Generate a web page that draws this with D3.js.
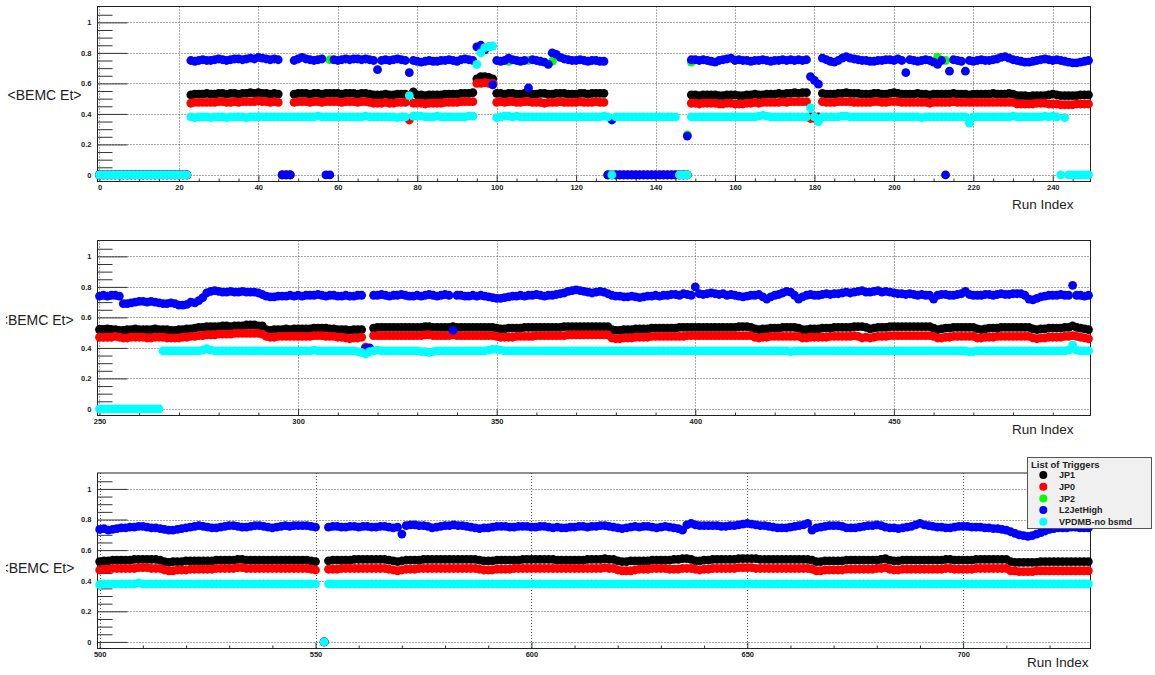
<!DOCTYPE html>
<html>
<head>
<meta charset="utf-8">
<script src="https://cdn.jsdelivr.net/npm/d3@7"></script>
<style>
  html, body { margin: 0; padding: 0; background: #ffffff; }
  svg { display: block; }
</style>
</head>
<body>
<svg id="chart" width="1155" height="675"></svg>
<script>
// ---- data ---------------------------------------------------------------
const triggerNames = ["JP1", "JP0", "JP2", "L2JetHigh", "VPDMB-no bsmd"];
const legendTitle = "List of Triggers";
const yAxisTitle = "<BEMC Et>";
const xAxisTitle = "Run Index";

// run ranges shown in each of the three pads
const firstRun = [0, 250, 500];
const lastRun = [249, 499, 729];

const xMajorTicks = [
  [0, 20, 40, 60, 80, 100, 120, 140, 160, 180, 200, 220, 240],
  [250, 300, 350, 400, 450],
  [500, 550, 600, 650, 700]
];
const xMinorStep = [5, 10, 10];
const yTickValues = [0, 0.2, 0.4, 0.6, 0.8, 1];
const yMinorStep = 0.05;

// mean BEMC Et per run, one value per run index 0..729 (null = no entry)
const jp1 = [
0,0,0,0,0,0,0,0,0,0,
0,0,0,0,0,0,0,0,0,0,
0,0,0,.525,.53,.53,.53,.535,.53,.53,
.535,.535,.53,.535,.535,.53,.535,.535,.54,.535,
.54,.535,.535,.53,.535,.53,0,0,0,.53,
.535,.535,.535,.53,.535,.535,.53,.535,.535,.535,
.535,.53,.535,.535,.535,.53,.535,.535,.53,.525,
.525,.525,.53,.525,.525,.53,.53,.53,.52,.545,
.525,.525,.52,.525,.525,.525,.525,.53,.53,.53,
.53,.535,.535,.535,.54,.63,.645,.645,.64,.63,
.535,.535,.53,.535,.535,.53,.53,.535,.535,.53,
.53,.535,.535,.53,.53,.535,.535,.535,.53,.53,
.53,.535,.535,.53,.535,.535,.535,.535,0,0,
0,0,0,0,0,0,0,0,0,0,
0,0,0,0,0,0,0,0,0,.525,
.525,.52,.525,.525,.525,.525,.52,.52,.525,.525,
.525,.52,.52,.525,.525,.53,.525,.525,.53,.53,
.53,.535,.53,.535,.535,.54,.535,.54,.54,.38,
.38,.38,.535,.53,.53,.53,.535,.535,.54,.535,
.535,.535,.53,.53,.53,.535,.535,.53,.53,.535,
.54,.535,.53,.53,.53,.53,.535,.53,.53,.525,
.53,.53,.53,.53,.53,.535,.53,.53,.53,.525,
.53,.53,.53,.53,.53,.535,.53,.53,.53,.535,
.53,.52,.52,.52,.515,.52,.52,.52,.52,.525,
.53,.525,.52,.52,.52,.52,.52,.525,.525,.525,
.52,.52,.525,.52,.52,.515,.515,.52,.52,.525,
.52,.52,.52,.52,.525,.52,.52,.52,.515,.515,
.52,.52,.525,.525,.53,.535,.535,.54,.54,.54,
.54,.545,.545,.54,.545,.545,.545,.55,.55,.55,
.545,.545,.52,.515,.52,.52,.52,.525,.52,.525,
.525,.525,.525,.525,.53,.53,.53,.53,.525,.525,
.52,.52,.52,.515,.52,.52,.52,.40,.39,.53,
.535,.535,.535,.535,.535,.535,.535,.535,.535,.535,
.535,.535,.54,.54,.535,.535,.535,.535,.535,.54,
.535,.535,.535,.535,.535,.535,.535,.535,.535,.535,
.53,.525,.525,.53,.53,.53,.53,.535,.535,.535,
.535,.535,.535,.535,.535,.535,.535,.54,.54,.54,
.54,.54,.54,.54,.54,.54,.54,.54,.54,.52,
.515,.515,.52,.52,.52,.525,.525,.525,.525,.53,
.53,.53,.53,.53,.53,.53,.535,.535,.535,.535,
.535,.535,.535,.535,.535,.535,.535,.535,.535,.535,
.535,.54,.54,.54,.535,.525,.52,.525,.525,.53,
.53,.53,.535,.535,.535,.535,.53,.52,.52,.525,
.525,.525,.53,.53,.53,.535,.535,.535,.535,.535,
.54,.54,.54,.535,.525,.53,.535,.535,.535,.54,
.54,.54,.54,.54,.54,.54,.54,.54,.54,.54,
.53,.52,.525,.53,.53,.535,.535,.535,.535,.535,
.535,.525,.52,.525,.53,.53,.53,.535,.535,.535,
.535,.535,.535,.535,.535,.525,.52,.525,.525,.53,
.53,.53,.53,.535,.535,.545,.535,.53,.525,.52,
.525,.53,.53,.535,.535,.535,.535,.535,.54,.54,
.54,.54,.54,.54,.535,.525,.52,.525,.525,.525,
.53,.53,.53,.53,.53,.53,.53,.535,.535,.535,
.535,.535,.54,.54,.535,.535,.535,.535,.535,.535,
.535,.535,.535,.535,.535,.535,.535,.535,.535,.53,
.525,null,0,.53,.535,.535,.535,.535,.535,.54,
.54,.54,.54,.54,.54,.54,.54,.535,.53,.525,
.53,.535,.535,.535,.535,.54,.54,.54,.54,.54,
.54,.54,.54,.54,.54,.54,.54,.54,.535,.53,
.53,.53,.535,.535,.535,.535,.535,.535,.54,.54,
.54,.54,.54,.54,.54,.54,.535,.535,.535,.535,
.535,.535,.535,.54,.54,.54,.54,.545,.54,.54,
.53,.525,.525,.53,.53,.53,.53,.53,.535,.535,
.535,.535,.535,.54,.54,.545,.545,.54,.53,.53,
.535,.535,.54,.54,.54,.54,.54,.54,.545,.545,
.545,.545,.545,.54,.54,.54,.54,.54,.54,.54,
.54,.54,.54,.54,.54,.535,.525,.525,.53,.53,
.53,.53,.53,.535,.535,.535,.535,.535,.535,.535,
.535,.54,.545,.535,.53,.53,.535,.535,.535,.535,
.535,.535,.535,.535,.535,.535,.54,.54,.535,.535,
.535,.535,.535,.54,.54,.54,.54,.54,.54,.54,
.54,.525,.52,.52,.52,.52,.52,.52,.525,.525,
.525,.525,.525,.525,.525,.525,.525,.525,.525,.525
];

const jp0 = [
0,0,0,0,0,0,0,0,0,0,
0,0,0,0,0,0,0,0,0,0,
0,0,0,.47,.475,.475,.475,.475,.475,.475,
.48,.48,.475,.475,.48,.475,.48,.48,.48,.48,
.485,.48,.48,.475,.48,.475,0,0,0,.475,
.48,.48,.48,.475,.48,.48,.475,.48,.48,.48,
.48,.475,.48,.48,.48,.475,.48,.48,.475,.47,
.47,.47,.475,.47,.47,.475,.475,.475,.36,.47,
.47,.47,.465,.47,.47,.47,.47,.475,.475,.475,
.475,.48,.48,.48,.48,.60,.60,.605,.60,.60,
.475,.48,.475,.48,.48,.475,.475,.48,.48,.475,
.475,.475,.47,.475,.475,.475,.48,.475,.475,.475,
.475,.48,.475,.475,.475,.48,.475,.475,0,0,
0,0,0,0,0,0,0,0,0,0,
0,0,0,0,0,0,0,0,0,.47,
.47,.465,.47,.47,.47,.47,.465,.465,.47,.47,
.465,.465,.465,.47,.47,.475,.47,.475,.475,.475,
.475,.475,.48,.475,.48,.48,.48,.48,.48,.37,
.37,.375,.48,.475,.475,.475,.48,.48,.48,.48,
.475,.475,.475,.475,.475,.48,.48,.475,.475,.48,
.48,.48,.475,.475,.475,.475,.475,.475,.475,.47,
.475,.475,.475,.475,.475,.48,.475,.475,.475,.475,
.475,.475,.475,.475,.475,.475,.475,.475,.475,.475,
.475,.465,.465,.465,.465,.465,.47,.47,.47,.465,
.465,.465,.46,.46,.46,.46,.465,.465,.465,.465,
.47,.47,.47,.47,.475,.47,.465,.465,.47,.47,
.47,.47,.465,.465,.47,.47,.47,.465,.465,.465,
.465,.47,.47,.475,.475,.48,.48,.485,.485,.485,
.49,.49,.49,.49,.495,.495,.495,.495,.495,.495,
.495,.49,.475,.47,.47,.475,.475,.475,.475,.475,
.475,.475,.475,.475,.48,.48,.48,.475,.475,.475,
.47,.47,.465,.46,.465,.465,.47,.405,.395,.48,
.48,.48,.48,.48,.48,.48,.48,.48,.48,.48,
.48,.48,.485,.485,.48,.48,.48,.48,.48,.485,
.48,.48,.48,.48,.48,.48,.48,.48,.48,.48,
.475,.47,.47,.47,.47,.475,.475,.475,.475,.475,
.48,.48,.48,.48,.48,.48,.48,.48,.485,.485,
.485,.485,.485,.485,.485,.485,.485,.485,.485,.465,
.46,.46,.465,.465,.465,.47,.47,.47,.47,.475,
.475,.475,.475,.475,.475,.475,.475,.475,.48,.48,
.48,.48,.48,.48,.48,.48,.48,.48,.48,.48,
.48,.48,.48,.48,.48,.47,.465,.47,.47,.475,
.475,.475,.475,.475,.475,.475,.475,.465,.465,.47,
.47,.47,.47,.47,.475,.475,.475,.475,.475,.475,
.48,.475,.465,.47,.465,.47,.475,.475,.475,.48,
.48,.48,.48,.48,.48,.48,.48,.48,.48,.48,
.475,.465,.465,.47,.47,.475,.475,.475,.475,.475,
.475,.465,.465,.47,.47,.47,.475,.475,.475,.475,
.475,.475,.475,.475,.475,.465,.46,.465,.465,.47,
.47,.47,.47,.475,.475,.48,.475,.47,.465,.46,
.47,.475,.475,.48,.48,.48,.48,.48,.48,.485,
.485,.485,.48,.48,.48,.47,.465,.465,.47,.47,
.47,.475,.475,.475,.475,.475,.475,.48,.48,.48,
.48,.48,.485,.485,.48,.48,.48,.48,.48,.48,
.48,.48,.48,.48,.48,.48,.48,.48,.48,.475,
.47,null,0,.475,.475,.475,.48,.48,.48,.48,
.48,.48,.48,.48,.48,.48,.48,.475,.47,.465,
.47,.475,.475,.475,.48,.48,.48,.48,.48,.48,
.48,.48,.48,.48,.48,.48,.48,.48,.475,.47,
.47,.47,.475,.475,.475,.475,.48,.48,.48,.48,
.48,.48,.48,.48,.48,.48,.48,.48,.48,.48,
.48,.48,.48,.48,.48,.48,.48,.485,.48,.48,
.47,.465,.465,.465,.47,.475,.475,.475,.48,.48,
.48,.48,.475,.475,.475,.48,.48,.48,.475,.47,
.475,.475,.48,.48,.48,.48,.48,.48,.485,.485,
.485,.485,.48,.48,.48,.48,.48,.48,.48,.48,
.48,.48,.48,.48,.48,.475,.465,.465,.47,.47,
.47,.47,.47,.475,.475,.475,.475,.475,.475,.475,
.48,.48,.485,.475,.47,.47,.475,.475,.475,.475,
.475,.475,.475,.475,.475,.475,.48,.48,.475,.475,
.475,.475,.475,.48,.48,.48,.48,.48,.48,.48,
.48,.465,.465,.46,.46,.46,.46,.465,.465,.465,
.465,.465,.465,.465,.465,.465,.465,.465,.465,.465
];

// JP2 entries that are not hidden under L2JetHigh
const jp2Runs = [58, 103, 108, 114, 148, 149, 211, 213];
const jp2Values = [.755, .745, .75, .745, .262, .74, .77, .75];

const l2JetHigh = [
0,0,0,0,0,0,0,0,0,0,
0,0,0,0,0,0,0,0,0,0,
0,0,0,.75,.745,.75,.755,.75,.75,.755,
.76,.755,.75,.755,.76,.76,.755,.76,.765,.76,
.77,.765,.76,.755,.76,.755,0,0,0,.75,
.76,.77,.76,.755,.75,.755,.76,0,0,.755,
.75,.755,.76,.755,.76,.76,.755,.76,.755,.75,
.69,.75,.755,.75,.755,.76,.755,.75,.67,.75,
.745,.74,.745,.75,.745,.745,.75,.75,.755,.75,
.745,.755,.76,.755,.75,.84,.85,.82,.84,.59,
.75,.745,.75,.765,.755,.75,.745,.75,.57,.755,
.75,.745,.74,.725,.80,.79,.77,.76,.755,.75,
.75,.755,.75,.745,.75,.75,.745,.745,0,.36,
0,0,0,0,0,0,0,0,0,0,
0,0,0,0,0,0,0,0,.255,.755,
.755,.75,.755,.75,.745,.74,.75,.755,.76,.765,
.75,.755,.75,.75,.745,.75,.75,.755,.75,.745,
.75,.75,.755,.75,.755,.75,.755,.75,.755,.645,
.62,.595,.765,.755,.745,.74,.75,.765,.775,.765,
.76,.755,.75,.75,.745,.745,.75,.75,.755,.755,
.75,.76,.75,.67,.755,.75,.745,.75,.755,.75,
.74,.725,.75,0,.68,.755,.75,.745,.68,.75,
.745,.75,.755,.75,.75,.755,.76,.77,.775,.765,
.755,.75,.745,.74,.74,.745,.75,.755,.76,.755,
.75,.755,.75,.745,.74,.735,.735,.74,.745,.75,
.74,.745,.74,.745,.745,.74,.69,.69,.695,.70,
.705,.705,.70,.705,.70,.695,.69,.69,.695,.69,
.68,.68,.685,.70,.695,.71,.73,.76,.77,.775,
.77,.765,.765,.77,.765,.765,.77,.765,.765,.765,
.76,.75,.74,.735,.735,.74,.74,.74,.745,.74,
.745,.74,.745,.745,.745,.75,.745,.74,.745,.745,
.74,.74,.745,.74,.74,.745,.745,.395,.40,.745,
.745,.75,.745,.74,.745,.745,.75,.745,.74,.74,
.745,.74,.745,.75,.745,.74,.745,.75,.745,.515,
.745,.745,.74,.74,.745,.74,.745,.74,.735,.73,
.725,.725,.73,.735,.74,.74,.745,.74,.745,.745,
.75,.745,.74,.745,.745,.75,.755,.76,.77,.775,
.78,.775,.77,.765,.76,.765,.77,.765,.755,.745,
.74,.74,.735,.735,.74,.735,.73,.735,.74,.74,
.745,.74,.745,.745,.75,.75,.745,.755,.75,.745,
.80,.755,.75,.755,.76,.755,.75,.755,.745,.75,
.745,.74,.735,.74,.745,.745,.75,.735,.72,.735,
.745,.75,.76,.77,.765,.745,.72,.735,.745,.75,
.745,.745,.75,.755,.75,.755,.755,.76,.765,.76,
.765,.77,.775,.765,.765,.77,.775,.765,.77,.765,
.76,.755,.755,.75,.755,.75,.745,.75,.745,.745,
.72,.745,.75,.75,.745,.745,.75,.755,.77,.75,
.745,.745,.745,.75,.75,.745,.75,.755,.75,.75,
.755,.755,.755,.745,.72,.715,.725,.735,.74,.745,
.745,.745,.75,.745,.745,.81,.745,.745,.74,.745,
.735,.74,.73,.735,.74,.745,.745,.75,.75,.755,
.755,.75,.745,.745,.74,.735,.73,.73,.735,.74,
.745,.75,.755,.76,.755,.75,.745,.745,.75,.755,
.76,.76,.755,.75,.75,.755,.76,.76,.755,.75,
.745,.75,.755,.76,.755,.76,.76,.76,.76,.755,
.75,null,0,.75,.755,.755,.75,.75,.755,.755,
.75,.755,.755,.75,.75,.755,.755,.75,.745,.75,
.705,.76,.765,.765,.76,.76,.755,.745,.75,.755,
.76,.76,.765,.76,.76,.755,.75,.745,.74,.745,
.745,.75,.755,.755,.755,.75,.75,.755,.755,.755,
.75,.75,.755,.755,.75,.745,.75,.745,.745,.75,
.75,.755,.755,.75,.755,.755,.76,.76,.755,.75,
.745,.74,.745,.75,.755,.75,.755,.755,.75,.745,
.75,.755,.75,.745,.74,.73,.765,.775,.765,.76,
.76,.76,.76,.76,.755,.755,.76,.76,.765,.77,
.775,.77,.765,.76,.76,.755,.75,.745,.745,.745,
.75,.755,.76,.765,.775,.73,.745,.75,.755,.76,
.76,.76,.755,.745,.745,.745,.75,.755,.76,.76,
.765,.76,.75,.745,.745,.74,.745,.75,.755,.765,
.775,.765,.76,.755,.75,.75,.745,.745,.75,.755,
.755,.755,.75,.75,.75,.745,.745,.74,.74,.735,
.73,.72,.71,.70,.695,.69,.695,.705,.715,.725,
.735,.74,.745,.745,.745,.75,.75,.745,.745,.745
];

const vpdmb = [
0,0,0,0,0,0,0,0,0,0,
0,0,0,0,0,0,0,0,0,0,
0,0,0,.38,.375,.38,.38,.38,.375,.38,
.38,.38,.375,.38,.38,.38,.38,.375,.38,.38,
.38,.38,.38,.38,.38,.38,.38,.38,.38,.38,
.38,.38,.38,.38,.38,.385,.38,.38,.38,.38,
.38,.38,.38,.38,.38,.38,.38,.385,.38,.38,
.38,.38,.38,.38,.38,.375,.38,.38,.52,.385,
.385,.385,.38,.38,.38,.385,.38,.38,.38,.38,
.38,.38,.38,.385,.385,.725,.80,.835,.84,.845,
.375,.38,.385,.385,.38,.385,.38,.38,.38,.38,
.38,.38,.38,.38,.38,.38,.38,.38,.38,.38,
.38,.38,.38,.38,.38,.38,.38,.385,.38,0,
.38,.38,.38,.38,.38,.38,.38,.38,.38,.38,
.38,.38,.38,.38,.38,.38,0,0,0,.38,
.38,.38,.38,.38,.38,.38,.38,.38,.38,.38,
.38,.38,.38,.38,.38,.38,.385,.39,.385,.38,
.38,.38,.38,.38,.38,.38,.38,.38,.38,.44,
.38,.35,.38,.38,.38,.38,.38,.385,.385,.38,
.38,.38,.38,.38,.38,.38,.38,.38,.38,.38,
.38,.38,.38,.38,.38,.38,.38,.375,.38,.38,
.38,.38,.38,.38,.38,.38,.38,.38,.38,.34,
.38,.38,.38,.38,.38,.38,.38,.38,.38,.38,
.385,.38,.38,.38,.38,.38,.38,.38,.385,.38,
.385,.38,0,.375,0,0,0,0,0,0,
0,0,0,0,0,0,0,0,0,0,
0,0,0,0,0,0,.38,.38,.38,.38,
.38,.38,.38,.38,.38,.38,.385,.395,.385,.38,
.38,.38,.38,.38,.38,.38,.38,.38,.38,.38,
.38,.38,.38,.38,.38,.38,.38,.38,.38,.38,
.38,.38,.38,.38,.385,.38,.38,.38,.38,.38,
.38,.38,.38,.38,.38,.375,.37,.36,.375,.38,
.385,.38,.38,.38,.38,.38,.38,.38,.38,.38,
.38,.375,.375,.37,.375,.38,.38,.38,.38,.38,
.38,.38,.38,.38,.38,.38,.38,.38,.385,.39,
.39,.385,.38,.38,.38,.38,.38,.38,.38,.38,
.38,.38,.38,.38,.38,.38,.38,.38,.38,.38,
.38,.38,.38,.38,.38,.38,.38,.38,.38,.38,
.38,.38,.38,.38,.38,.38,.38,.38,.38,.38,
.38,.38,.38,.38,.38,.38,.38,.38,.38,.38,
.38,.38,.38,.38,.38,.38,.38,.38,.38,.38,
.38,.38,.38,.38,.38,.38,.38,.38,.38,.38,
.38,.38,.38,.38,.375,.38,.38,.38,.38,.38,
.38,.38,.38,.38,.38,.38,.38,.38,.38,.38,
.38,.38,.38,.38,.38,.38,.38,.38,.38,.38,
.38,.38,.38,.38,.38,.38,.38,.38,.38,.38,
.38,.38,.38,.38,.38,.38,.38,.38,.38,.375,
.375,.38,.38,.38,.38,.38,.38,.38,.38,.38,
.38,.38,.38,.38,.38,.38,.38,.38,.38,.38,
.38,.38,.38,.38,.385,.42,.385,.38,.38,.38,
.375,.38,.38,.38,.38,.38,.38,.38,.38,.385,
.38,.38,.38,.38,.38,.38,.38,.38,.38,.38,
.38,.38,.38,.38,.38,.38,.38,.38,.38,.38,
.38,.38,.38,.38,.38,.38,.38,.38,.38,.38,
.38,.38,.38,.38,.38,.38,.38,.38,.38,.38,
.38,null,0,.38,.38,.38,.38,.38,.38,.38,
.38,.38,.38,.38,.38,.38,.38,.38,.38,.38,
.38,.38,.38,.38,.38,.38,.38,.38,.38,.38,
.38,.38,.38,.38,.38,.38,.38,.38,.38,.38,
.38,.38,.38,.38,.38,.38,.38,.38,.38,.38,
.38,.38,.38,.38,.38,.38,.38,.38,.38,.38,
.38,.38,.38,.38,.38,.38,.38,.38,.38,.38,
.38,.38,.38,.38,.38,.38,.38,.38,.38,.38,
.38,.38,.38,.38,.38,.38,.38,.38,.38,.38,
.38,.38,.38,.38,.38,.38,.38,.38,.38,.38,
.38,.38,.38,.38,.38,.38,.38,.38,.38,.38,
.38,.38,.38,.38,.38,.38,.38,.38,.38,.38,
.38,.38,.38,.38,.38,.38,.38,.38,.38,.38,
.38,.38,.38,.38,.38,.38,.38,.38,.38,.38,
.38,.38,.38,.38,.38,.38,.38,.38,.38,.38,
.38,.38,.38,.38,.38,.38,.38,.38,.38,.38,
.38,.38,.38,.38,.38,.38,.38,.38,.38,.38,
.38,.38,.38,.38,.38,.38,.38,.38,.38,.38
];

// ---- layout -------------------------------------------------------------
const W = 1155, H = 675;
const frameLeft = 97.5, frameRight = 1090.5;
const yDomain = [-0.043, 1.104];
const pads = [
  { top: 6.5,   bottom: 181.5, yTitleX: 7.6,  yTitleY: 99.7,  clip: false, xTitleX: 1073.5, xTitleY: 208.7 },
  { top: 240.5, bottom: 415.5, yTitleX: -0.3, yTitleY: 325,   clip: true,  xTitleX: 1073.5, xTitleY: 433.7 },
  { top: 473,   bottom: 648.5, yTitleX: 0.5,  yTitleY: 573.3, clip: true,  xTitleX: 1088.5, xTitleY: 666.7 }
];
const markerR = 4.4;
const colors = ["#000000", "#ff0000", "#00ff00", "#0000ff", "#00ffff"];
const labelFont = "'Liberation Sans', Arial, sans-serif";
const textColor = "#222222";

const runIndex = d3.range(firstRun[0], lastRun[2] + 1);
const seriesList = [
  { name: triggerNames[0], color: colors[0], runs: runIndex, values: jp1 },
  { name: triggerNames[1], color: colors[1], runs: runIndex, values: jp0 },
  { name: triggerNames[2], color: colors[2], runs: jp2Runs,  values: jp2Values },
  { name: triggerNames[3], color: colors[3], runs: runIndex, values: l2JetHigh },
  { name: triggerNames[4], color: colors[4], runs: runIndex, values: vpdmb }
];

const svg = d3.select("#chart");
svg.append("rect").attr("width", W).attr("height", H).attr("fill", "#ffffff");

const defs = svg.append("defs");
defs.append("clipPath").attr("id", "titleClip")
  .append("rect").attr("x", 6).attr("y", 0).attr("width", 200).attr("height", H);

pads.forEach((pad, p) => {
  const x = d3.scaleLinear().domain([firstRun[p] - 0.5, lastRun[p] + 0.5]).range([frameLeft, frameRight]);
  const y = d3.scaleLinear().domain(yDomain).range([pad.bottom, pad.top]);
  const g = svg.append("g");

  // dotted grid at the major ticks
  const grid = g.append("g").attr("stroke", "#555").attr("stroke-width", 1).attr("stroke-dasharray", "1,2");
  grid.selectAll("line.gx").data(xMajorTicks[p]).join("line")
    .attr("x1", d => Math.round(x(d)) + 0.5).attr("x2", d => Math.round(x(d)) + 0.5)
    .attr("y1", pad.top).attr("y2", pad.bottom);
  grid.selectAll("line.gy").data(yTickValues).join("line")
    .attr("x1", frameLeft).attr("x2", frameRight)
    .attr("y1", d => Math.round(y(d)) + 0.5).attr("y2", d => Math.round(y(d)) + 0.5);

  // y axis: long major ticks and shorter minor ticks pointing into the pad
  const yMinor = d3.range(0, 1.09, yMinorStep).filter(v => !yTickValues.some(t => Math.abs(t - v) < 1e-6));
  const yMinorAxis = g.append("g").attr("transform", `translate(${frameLeft},0)`)
    .call(d3.axisLeft(y).tickValues(yMinor).tickSize(-15).tickSizeOuter(0).tickFormat(""));
  const yMajorAxis = g.append("g").attr("transform", `translate(${frameLeft},0)`)
    .call(d3.axisLeft(y).tickValues(yTickValues).tickSize(-30).tickSizeOuter(0).tickPadding(6).tickFormat(d => String(d)));

  // x axis: short ticks pointing up, labels below
  const xDom = x.domain();
  const xMinor = d3.range(Math.ceil(xDom[0] / xMinorStep[p]) * xMinorStep[p], xDom[1], xMinorStep[p])
    .filter(v => !xMajorTicks[p].includes(v));
  const xMinorAxis = g.append("g").attr("transform", `translate(0,${pad.bottom})`)
    .call(d3.axisBottom(x).tickValues(xMinor).tickSize(-3).tickSizeOuter(0).tickFormat(""));
  const xMajorAxis = g.append("g").attr("transform", `translate(0,${pad.bottom})`)
    .call(d3.axisBottom(x).tickValues(xMajorTicks[p]).tickSize(-6).tickSizeOuter(0).tickPadding(3.5).tickFormat(d => String(d)));

  [yMinorAxis, yMajorAxis, xMinorAxis, xMajorAxis].forEach(a => {
    a.select(".domain").remove();
    a.selectAll(".tick line").attr("stroke", "#333");
    a.selectAll(".tick text")
      .attr("font-family", labelFont).attr("font-size", 7.5).attr("font-weight", "bold").attr("fill", textColor);
  });

  // frame
  g.append("rect")
    .attr("x", frameLeft).attr("y", pad.top)
    .attr("width", frameRight - frameLeft).attr("height", pad.bottom - pad.top)
    .attr("fill", "none").attr("stroke", "#222").attr("stroke-width", 1);

  // markers, drawn in legend order
  seriesList.forEach(s => {
    const pts = s.runs.map((r, i) => ({ r, v: s.values[i] }))
      .filter(d => d.v !== null && d.v !== undefined && d.r >= firstRun[p] && d.r <= lastRun[p]);
    g.append("g").attr("fill", s.color)
      .selectAll("circle").data(pts).join("circle")
      .attr("cx", d => x(d.r)).attr("cy", d => y(d.v)).attr("r", markerR);
  });

  // axis titles
  const yt = g.append("text")
    .attr("x", pad.yTitleX).attr("y", pad.yTitleY)
    .attr("font-family", labelFont).attr("font-size", 14).attr("fill", textColor)
    .text(yAxisTitle);
  if (pad.clip) yt.attr("clip-path", "url(#titleClip)");

  g.append("text")
    .attr("x", pad.xTitleX).attr("y", pad.xTitleY).attr("text-anchor", "end")
    .attr("font-family", labelFont).attr("font-size", 13.5).attr("fill", textColor)
    .text(xAxisTitle);
});

// ---- legend -------------------------------------------------------------
const lg = svg.append("g");
lg.append("rect")
  .attr("x", 1027.5).attr("y", 457.5).attr("width", 124).attr("height", 71)
  .attr("fill", "#f0f0f0").attr("stroke", "#555").attr("stroke-width", 1);
lg.append("text")
  .attr("x", 1031).attr("y", 467.5)
  .attr("font-family", labelFont).attr("font-size", 9.5).attr("font-weight", "bold").attr("fill", textColor)
  .text(legendTitle);
const entry = lg.selectAll("g.entry").data(seriesList).join("g")
  .attr("transform", (d, i) => `translate(0,${475 + i * 11.7})`);
entry.append("circle").attr("cx", 1043.3).attr("cy", 0).attr("r", 4).attr("fill", d => d.color);
entry.append("text")
  .attr("x", 1059).attr("y", 3.3)
  .attr("font-family", labelFont).attr("font-size", 9).attr("font-weight", "bold").attr("fill", textColor)
  .text(d => d.name);
</script>
</body>
</html>
